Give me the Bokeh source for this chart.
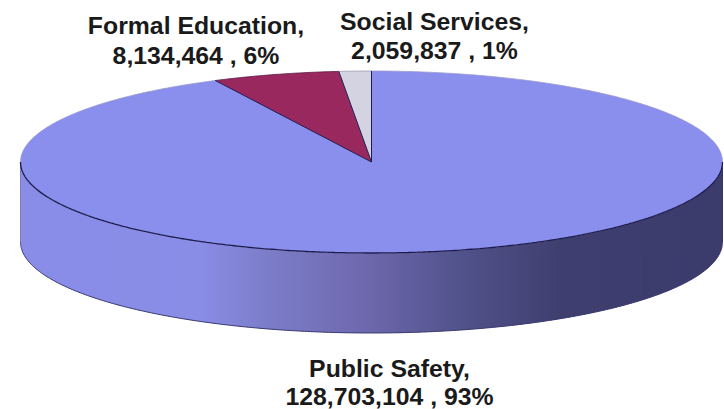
import numpy as np
from bokeh.core.properties import value
from bokeh.embed import file_html
from bokeh.models import Range1d
from bokeh.plotting import figure
from bokeh.resources import INLINE

categories = ["Public Safety", "Formal Education", "Social Services"]
amounts = [128703104, 8134464, 2059837]
percents = ["93%", "6%", "1%"]
amount_labels = ["128,703,104", "8,134,464", "2,059,837"]
top_colors = ["#8a8eec", "#99285f", "#d3d3e2"]

# side shading, left to right, in reference pixels
shade_x = [20, 200, 270, 362, 450, 560, 722]
shade_c = [(138, 142, 232), (138, 141, 230), (124, 125, 200), (111, 106, 176),
           (85, 85, 143), (63, 63, 112), (60, 60, 108)]

CX, CY, RX, RY, DEPTH = 371, 161.5, 351, 91, 80
OUT = "#1c1c50"

W, H = 724, 409
p = figure(width=W, height=H, output_backend="svg", toolbar_location=None,
           x_range=Range1d(0, W), y_range=Range1d(H, 0),
           min_border=0, outline_line_color=None)
p.axis.visible = False
p.grid.visible = False
p.background_fill_color = "white"
p.border_fill_color = "white"

# side wall: overlapping strips, painted left to right
edge = np.linspace(CX - RX, CX + RX, 351)
xs, ys, cs = [], [], []
for a, b in zip(edge[:-1], edge[1:]):
    xx = np.linspace(a, min(b + 1.5, CX + RX), 4)
    yy = CY + RY * np.sqrt(np.clip(1 - ((xx - CX) / RX) ** 2, 0, 1))
    xs.append(list(xx) + list(xx[::-1]))
    ys.append(list(yy) + list((yy + DEPTH)[::-1]))
    m = (a + b) / 2
    c = [int(np.interp(m, shade_x, [s[i] for s in shade_c])) for i in range(3)]
    cs.append("#%02x%02x%02x" % tuple(c))
p.patches(xs, ys, fill_color=cs, line_color=None)

# outline of the wall
t = np.linspace(np.pi, 0, 361)
ex, ey = CX + RX * np.cos(t), CY + RY * np.sin(t)
p.line(ex, ey + DEPTH, line_color="#3a3a70", line_width=1.0)
p.line([CX - RX, CX - RX], [CY, CY + DEPTH], line_color="#6a6ca8", line_width=0.8)
p.line([CX + RX, CX + RX], [CY, CY + DEPTH], line_color=OUT, line_width=0.8)

# top slices, clockwise from twelve o'clock
total = sum(amounts)
start = 0.0
rim_colors = ["#9a9ccc", "#5a1c48", "#9a9ab0"]
for amt, col, rim in zip(amounts, top_colors, rim_colors):
    end = start + 2 * np.pi * amt / total
    a = np.linspace(start, end, max(4, int((end - start) * 120)))
    ax, ay = CX + RX * np.sin(a), CY - RY * np.cos(a)
    p.patch([CX] + list(ax) + [CX], [CY] + list(ay) + [CY], fill_color=col, line_color=None)
    p.line(ax, ay, line_color=rim, line_width=0.8)
    start = end

# front rim of the top face, and the slice edges
t = np.linspace(np.pi, 0, 361)
p.line(CX + RX * np.cos(t), CY + RY * np.sin(t), line_color=OUT, line_width=1.3)
start = 0.0
for amt in amounts:
    p.line([CX, CX + RX * np.sin(start)], [CY, CY - RY * np.cos(start)],
           line_color=OUT, line_width=1.0)
    start += 2 * np.pi * amt / total

# labels
label_x = [389, 195.5, 434]
label_y = [[367.5, 395.5], [25, 55], [20.5, 50]]
for i, name in enumerate(categories):
    lines = [name + ",", f"{amount_labels[i]} , {percents[i]}"]
    p.text([label_x[i]] * 2, label_y[i], text=lines, text_align="center",
           text_baseline="middle", text_font=value("Liberation Sans"),
           text_font_style="bold", text_font_size="24.8px", text_color="#1a1a1a")

open("out.html", "w").write(file_html(p, INLINE))
